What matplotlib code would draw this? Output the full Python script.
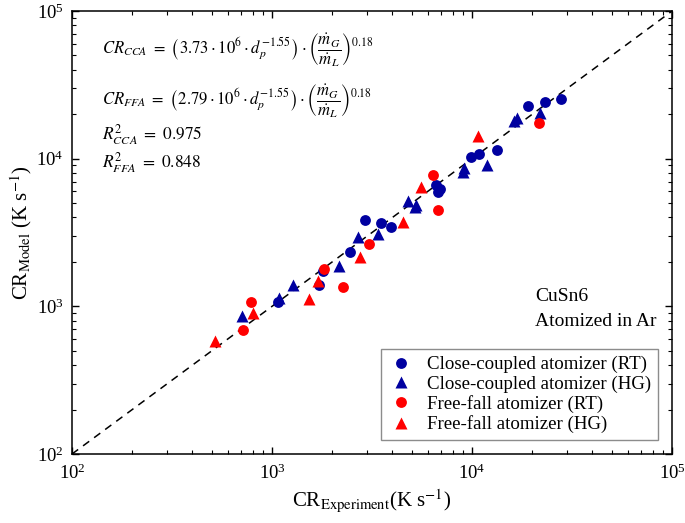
import numpy as np
import matplotlib
matplotlib.use('Agg')
import matplotlib.pyplot as plt

plt.rcParams['font.family'] = ['Liberation Serif', 'DejaVu Serif']
plt.rcParams['mathtext.fontset'] = 'stix'

# close-coupled atomizer, room temperature gas
cca_rt_x = [19120, 23170, 27860, 13290, 10880, 9850, 6610, 6780, 6920,
            2920, 3510, 3940, 2455, 1790, 1720, 1075]
cca_rt_y = [22730, 24080, 25230, 11390, 10800, 10210, 6630, 5920, 6230,
            3840, 3680, 3430, 2330, 1740, 1390, 1070]
# close-coupled atomizer, heated gas
cca_hg_x = [16850, 16220, 21880, 11930, 9150, 8990, 4770, 5250, 5190,
            3400, 2700, 2170, 1280, 1090, 706]
cca_hg_y = [18950, 17990, 20290, 9060, 8600, 8160, 5190, 4860, 4680,
            3090, 2935, 1876, 1394, 1133, 860]
# free-fall atomizer, room temperature gas
ffa_rt_x = [21700, 6360, 6780, 3055, 1820, 2273, 783, 714]
ffa_rt_y = [17350, 7750, 4490, 2643, 1781, 1345, 1070, 691]
# free-fall atomizer, heated gas
ffa_hg_x = [10750, 5560, 4535, 2754, 1704, 1537, 806, 519]
ffa_hg_y = [14300, 6460, 3740, 2169, 1480, 1116, 897, 580]

blue = '#0000A0'
red = '#FF0000'

fig = plt.figure(figsize=(6.85, 5.23), dpi=100)
ax = fig.add_axes([0.1051, 0.1319, 0.876, 0.847])

ax.plot([1e2, 1e5], [1e2, 1e5], ls=(0, (5, 4)), color='black', lw=1.1, zorder=1)

ms = 7.8
ax.plot(cca_rt_x, cca_rt_y, 'o', color=blue, ms=ms, mec='none', label='Close-coupled atomizer (RT)')
ax.plot(cca_hg_x, cca_hg_y, '^', color=blue, ms=ms + 0.5, mec='none', label='Close-coupled atomizer (HG)')
ax.plot(ffa_rt_x, ffa_rt_y, 'o', color=red, ms=ms, mec='none', label='Free-fall atomizer (RT)')
ax.plot(ffa_hg_x, ffa_hg_y, '^', color=red, ms=ms + 0.5, mec='none', label='Free-fall atomizer (HG)')

ax.set_xscale('log')
ax.set_yscale('log')
ax.set_xlim(1e2, 1e5)
ax.set_ylim(1e2, 1e5)

ax.tick_params(which='both', direction='in', top=True, right=True, labelsize=13.5)
ax.tick_params(which='major', length=5, width=1)
ax.tick_params(which='minor', length=3, width=0.8)
ax.tick_params(axis='x', which='major', pad=7)
ax.tick_params(axis='y', which='major', pad=6)
for s in ax.spines.values():
    s.set_linewidth(1.1)

ax.set_xlabel(r'CR$_{\mathrm{Experiment}}$(K s$^{\mathrm{-1}}$)', fontsize=15, labelpad=3)
ax.set_ylabel(r'CR$_{\mathrm{Model}}$ (K s$^{\mathrm{-1}}$)', fontsize=15, labelpad=2)

leg = ax.legend(loc='lower right', fontsize=13.6, frameon=True, fancybox=False,
                edgecolor='#707070', handletextpad=0.7, borderaxespad=0.75,
                labelspacing=0.12, handlelength=1.4, borderpad=0.35)
leg.get_frame().set_linewidth(1.0)

ax.text(0.772, 0.28, 'CuSn6\nAtomized in Ar', transform=ax.transAxes,
        fontsize=14, va='bottom', ha='left', linespacing=1.6)

eq1 = r'$CR_{CCA}\ =\ \left(3.73\cdot 10^{6}\cdot d_p^{-1.55}\right)\cdot\left(\dfrac{\dot{m}_G}{\dot{m}_L}\right)^{0.18}$'
eq2 = r'$CR_{FFA}\ =\ \left(2.79\cdot 10^{6}\cdot d_p^{-1.55}\right)\cdot\left(\dfrac{\dot{m}_G}{\dot{m}_L}\right)^{0.18}$'
ax.text(0.05, 0.912, eq1, transform=ax.transAxes, fontsize=12, va='center')
ax.text(0.05, 0.797, eq2, transform=ax.transAxes, fontsize=12, va='center')
ax.text(0.05, 0.722, r'$R^2_{CCA}\ =\ 0.975$', transform=ax.transAxes, fontsize=12.5, va='center')
ax.text(0.05, 0.657, r'$R^2_{FFA}\ =\ 0.848$', transform=ax.transAxes, fontsize=12.5, va='center')

fig.savefig('out.png', dpi=100)
